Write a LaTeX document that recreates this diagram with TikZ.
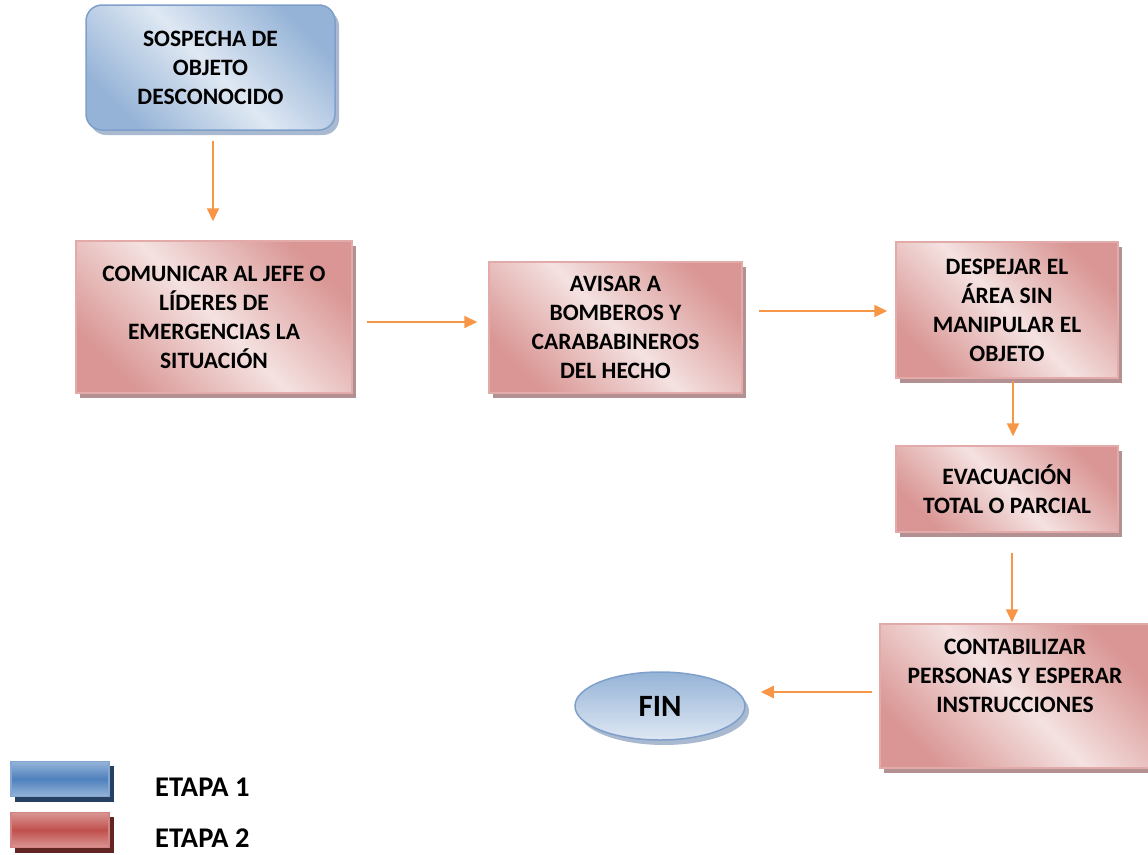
\documentclass[tikz,border=0pt]{standalone}
\usepackage{fontspec}
\setmainfont{Carlito}
\usepackage{tikz}
\usetikzlibrary{positioning,arrows.meta,shapes.geometric,shadows}

\definecolor{flujo}{HTML}{F79646}
\definecolor{rosaosc}{HTML}{D99694}
\definecolor{rosacla}{HTML}{F4E2E1}
\definecolor{rosaborde}{HTML}{E2AAA9}
\definecolor{rosasombra}{HTML}{B39192}
\definecolor{azulosc}{HTML}{95B3D7}
\definecolor{azulcla}{HTML}{DFE8F3}
\definecolor{azulborde}{HTML}{7F9FCB}
\definecolor{azulsombra}{HTML}{A9B9CF}

\begin{document}
\begin{tikzpicture}[x=1pt,y=-1pt,
  every node/.style={font=\fontsize{23.5}{29}\selectfont\bfseries, align=center},
  rosabox/.style={rectangle, draw=rosaborde, line width=1.5pt,
    top color=rosaosc, bottom color=rosaosc, middle color=rosacla, shading angle=-45,
    general shadow={shadow xshift=4pt, shadow yshift=-5pt, fill=rosasombra, draw=none}},
  azulbox/.style={rectangle, rounded corners=16pt, draw=azulborde, line width=1.5pt,
    top color=azulosc, bottom color=azulosc, middle color=azulcla, shading angle=-45,
    general shadow={shadow xshift=4pt, shadow yshift=-5pt, fill=azulsombra, draw=none}},
  flecha/.style={draw=flujo, line width=2pt, -{Triangle[length=13pt,width=12pt]}}]
\useasboundingbox (0,0) rectangle (1148,854);

\node[azulbox, minimum width=249pt, minimum height=125pt] (sospecha) at (210.5,67.5)
  {SOSPECHA DE\\OBJETO\\DESCONOCIDO};
\node[rosabox, minimum width=276pt, minimum height=152pt] (comunicar) at (214,317)
  {COMUNICAR AL JEFE O\\LÍDERES DE\\EMERGENCIAS LA\\SITUACIÓN};
\node[rosabox, minimum width=253pt, minimum height=131pt] (avisar) at (615.5,327.5)
  {AVISAR A\\BOMBEROS Y\\CARABABINEROS\\DEL HECHO};
\node[rosabox, minimum width=222pt, minimum height=136pt] (despejar) at (1007,310)
  {DESPEJAR EL\\ÁREA SIN\\MANIPULAR EL\\OBJETO};
\node[rosabox, minimum width=222pt, minimum height=86pt] (evacuacion) at (1007,489)
  {EVACUACIÓN\\TOTAL O PARCIAL};
\node[rosabox, minimum width=270pt, minimum height=144pt, text depth=40pt] (contabilizar) at (1015,696)
  {CONTABILIZAR\\PERSONAS Y ESPERAR\\INSTRUCCIONES};
\node[ellipse, draw=azulborde, line width=1.5pt, top color=azulosc, bottom color=azulcla,
  general shadow={shadow xshift=4pt, shadow yshift=-5pt, fill=azulsombra, draw=none},
  minimum width=170pt, minimum height=68pt, font=\fontsize{31}{34}\selectfont\bfseries] (fin) at (660,706) {FIN};

\draw[flecha, shorten <=10pt, shorten >=19pt] ([xshift=2.5pt]sospecha.south) -- ([xshift=2.5pt]sospecha.south |- comunicar.north);
\draw[flecha, shorten <=14pt, shorten >=11pt] ([yshift=-5pt]comunicar.east) -- ([yshift=-5pt]comunicar.east -| avisar.west);
\draw[flecha, shorten <=16pt, shorten >=8pt] ([yshift=16.5pt]avisar.east) -- ([yshift=16.5pt]avisar.east -| despejar.west);
\draw[flecha, shorten <=2pt, shorten >=9pt] ([xshift=6pt]despejar.south) -- ([xshift=6pt]despejar.south |- evacuacion.north);
\draw[flecha, shorten <=20pt, shorten >=1pt] ([xshift=5pt]evacuacion.south) -- ([xshift=5pt]evacuacion.south |- contabilizar.north);
\draw[flecha, shorten <=7pt, shorten >=15pt] ([yshift=4pt]contabilizar.west) -- ([yshift=4pt]contabilizar.west -| fin.east);

\foreach \n/\y/\c/\s in {1/779/4F81BD/254061, 2/830/C0504D/632523} {
  \definecolor{base}{HTML}{\c}
  \definecolor{sombra}{HTML}{\s}
  \fill[sombra] (15,\y-13) rectangle (114,\y+23);
  \node[rectangle, draw=base!70!white, line width=1.5pt, top color=base!60!white,
    bottom color=base!60!white, middle color=base, minimum width=98pt, minimum height=35pt] (etapa\n) at (60,\y) {};
  \node[anchor=west, inner sep=0pt, font=\fontsize{28.5}{30}\selectfont\bfseries] (texto\n) at (155,\y+8) {ETAPA \n};
}
\end{tikzpicture}
\end{document}
